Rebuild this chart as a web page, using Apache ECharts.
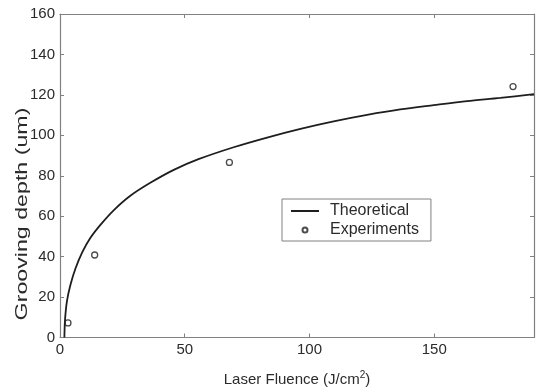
<!DOCTYPE html>
<html>
<head>
<meta charset="utf-8">
<script src="https://cdn.jsdelivr.net/npm/echarts@6/dist/echarts.min.js"></script>
<style>
  html, body { margin: 0; padding: 0; background: #fff; }
  #chart { width: 537px; height: 392px; }
</style>
</head>
<body>
<div id="chart"></div>
<script>
// theoretical curve
const theoX = [1.76, 2.0, 2.8, 4.2, 6.2, 8.9, 12.2, 16.2, 21.5, 28.2, 36.2, 45.6, 55.5, 69.6, 83, 96.4, 109.7, 123.1, 136.4, 149.8, 163.2, 176.5, 190];
const theoY = [0, 8.5, 18.1, 26.1, 34.1, 42.1, 49.3, 55.7, 62.9, 70.1, 76.5, 82.9, 88.2, 94.1, 98.9, 103.2, 106.9, 110.1, 112.8, 114.9, 116.9, 118.5, 120.4];

// measured points
const expX = [3.2, 13.9, 67.9, 181.6];
const expY = [7.2, 40.8, 86.6, 124.1];

const xTicks = [0, 50, 100, 150];
const yTicks = [0, 20, 40, 60, 80, 100, 120, 140, 160];

const axisGray = '#808080';
const textCol = '#2b2b2b';
const font = 'Liberation Sans, Arial, sans-serif';

const chart = echarts.init(document.getElementById('chart'));

const baseX = {
  type: 'value',
  min: 0,
  max: 190,
  interval: 50,
  splitLine: { show: false },
  axisLine: { show: true, onZero: false, lineStyle: { color: axisGray, width: 1.2 } },
  axisTick: { show: true, inside: true, length: 4, lineStyle: { color: axisGray } }
};
const baseY = {
  type: 'value',
  min: 0,
  max: 160,
  interval: 20,
  splitLine: { show: false },
  axisLine: { show: true, onZero: false, lineStyle: { color: axisGray, width: 1.2 } },
  axisTick: { show: true, inside: true, length: 4, lineStyle: { color: axisGray } }
};

const option = {
  backgroundColor: '#fff',
  animation: false,
  grid: { left: 60, right: 3, top: 14, bottom: 44 },
  xAxis: [
    Object.assign({}, baseX, {
      position: 'bottom',
      axisLabel: {
        color: textCol, fontSize: 15, fontFamily: font, margin: 5,
        formatter: v => xTicks.includes(v) ? String(v) : ''
      },
      name: 'Laser Fluence (J/cm{sup|2})',
      nameLocation: 'middle',
      nameGap: 33,
      nameTextStyle: {
        color: textCol, fontSize: 15, fontFamily: font,
        rich: { sup: { fontSize: 10, fontFamily: font, color: textCol, verticalAlign: 'top', padding: [0, 0, 8, 0] } }
      }
    }),
    Object.assign({}, baseX, { position: 'top', axisLabel: { show: false } })
  ],
  yAxis: [
    Object.assign({}, baseY, {
      position: 'left',
      axisLabel: {
        color: textCol, fontSize: 15, fontFamily: font, margin: 5,
        formatter: v => yTicks.includes(v) ? String(v) : ''
      }
    }),
    Object.assign({}, baseY, { position: 'right', axisLabel: { show: false } })
  ],
  legend: {
    orient: 'vertical',
    left: 282,
    top: 199,
    itemWidth: 28,
    itemHeight: 5,
    itemGap: 3,
    padding: [4, 12, 3, 8],
    borderColor: axisGray,
    borderWidth: 1,
    backgroundColor: '#fff',
    textStyle: { color: textCol, fontSize: 16, fontFamily: font, padding: [0, 0, 0, 6] },
    data: [
      { name: 'Theoretical', itemStyle: { opacity: 0 } },
      { name: 'Experiments', icon: 'circle' }
    ]
  },
  graphic: [{
    type: 'text',
    x: 23,
    y: 214,
    rotation: Math.PI / 2,
    scaleX: 1.45,
    style: {
      text: 'Grooving depth (um)',
      fontSize: 16,
      fontFamily: font,
      fill: textCol,
      align: 'center',
      verticalAlign: 'middle'
    }
  }],
  series: [
    {
      name: 'Theoretical',
      type: 'line',
      xAxisIndex: 0,
      yAxisIndex: 0,
      data: theoX.map((x, i) => [x, theoY[i]]),
      smooth: 0.3,
      symbol: 'none',
      lineStyle: { color: '#1e1e1e', width: 1.8 },
      itemStyle: { color: '#1e1e1e' }
    },
    {
      name: 'Experiments',
      type: 'scatter',
      xAxisIndex: 0,
      yAxisIndex: 0,
      data: expX.map((x, i) => [x, expY[i]]),
      symbol: 'circle',
      symbolSize: 6,
      itemStyle: { color: '#fff', borderColor: '#1e1e1e', borderWidth: 1.3 }
    }
  ]
};

chart.setOption(option);
</script>
</body>
</html>
